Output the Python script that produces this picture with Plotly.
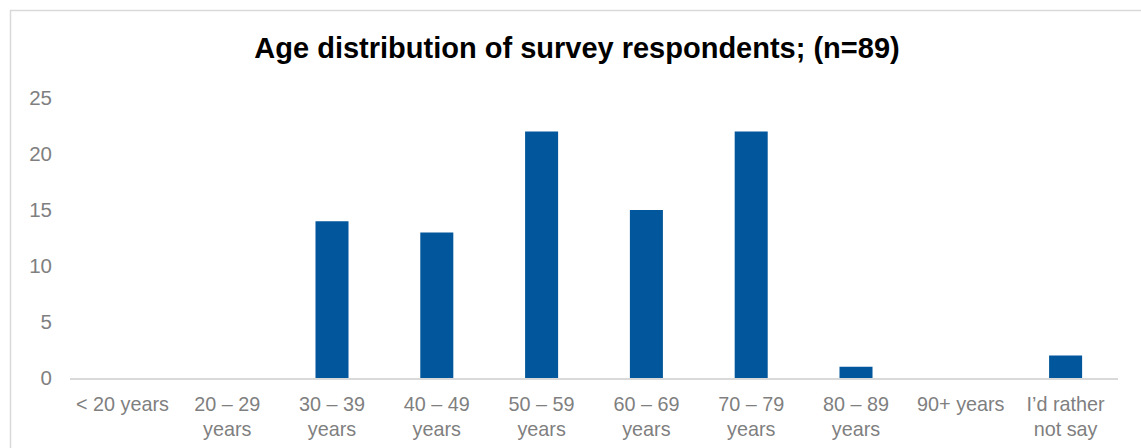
import plotly.graph_objects as go

categories = ["< 20 years", "20 – 29<br>years", "30 – 39<br>years", "40 – 49<br>years",
              "50 – 59<br>years", "60 – 69<br>years", "70 – 79<br>years", "80 – 89<br>years",
              "90+ years", "I’d rather<br>not say"]
counts = [0, 0, 14, 13, 22, 15, 22, 1, 0, 2]
y_ticks = [0, 5, 10, 15, 20, 25]
title_text = "<b>Age distribution of survey respondents; (n=89)</b>"

W, H = 1141, 448
L, R, T, B = 70, 23, 98, 70
pw, ph = W - L - R, H - T - B

def px_x(x):
    return (x - L) / pw

def px_y(y):
    return (H - B - y) / ph

fig = go.Figure(go.Bar(x=categories, y=counts, marker=dict(color="#02569B", line=dict(width=0))))

fig.update_layout(
    width=W, height=H,
    margin=dict(l=L, r=R, t=T, b=B, pad=0, autoexpand=False),
    paper_bgcolor="white", plot_bgcolor="white",
    bargap=0.685,
    showlegend=False,
    font=dict(family="Liberation Sans, Arial, sans-serif", color="#7F7F7F", size=20.5),
    title=dict(text=title_text, x=577 / W, xanchor="center", xref="container",
               y=1 - 48 / H, yanchor="middle", yref="container",
               font=dict(size=29, color="#000000", family="Liberation Sans, Arial, sans-serif")),
    shapes=[dict(type="rect", xref="paper", yref="paper",
                 x0=px_x(10.5), x1=px_x(1160), y0=px_y(470), y1=px_y(10.5),
                 line=dict(color="#D9D9D9", width=1.5), fillcolor="rgba(0,0,0,0)", layer="below")],
)

fig.update_xaxes(showgrid=False, showline=True, linecolor="#D9D9D9", linewidth=1.5,
                 ticks="", ticklabelstandoff=7, tickangle=0, zeroline=False, automargin=False,
                 tickfont=dict(size=19.8))
fig.update_yaxes(range=[0, 25], tickvals=y_ticks, showgrid=False, showline=False,
                 zeroline=False, ticks="", ticklabelstandoff=17, automargin=False)

fig.write_html("out.html")
